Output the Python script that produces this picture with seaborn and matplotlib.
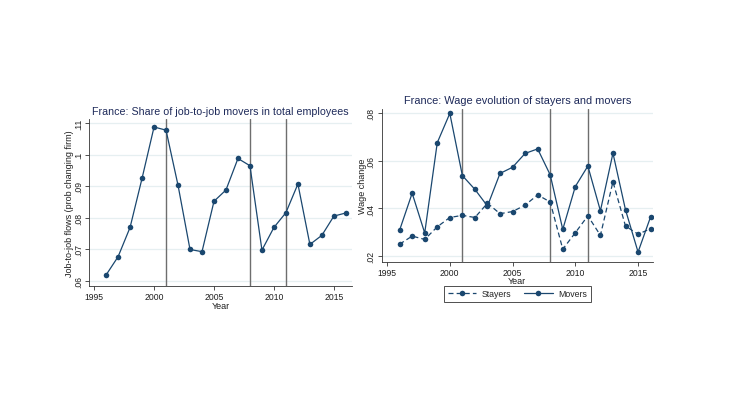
import matplotlib
matplotlib.use("Agg")
import matplotlib.pyplot as plt
import pandas as pd
import seaborn as sns
from matplotlib.lines import Line2D

years = list(range(1996, 2017))
j2j_share = [0.0618, 0.0676, 0.0769, 0.0925, 0.1088, 0.1078, 0.0903, 0.0699,
             0.0692, 0.0852, 0.0888, 0.0988, 0.0965, 0.0697, 0.0769, 0.0816,
             0.0907, 0.0715, 0.0744, 0.0805, 0.0815]
movers = [0.0309, 0.0464, 0.0297, 0.0676, 0.0799, 0.0538, 0.0480, 0.0410,
          0.0547, 0.0573, 0.0631, 0.0650, 0.0541, 0.0312, 0.0492, 0.0578,
          0.0390, 0.0632, 0.0394, 0.0217, 0.0365]
stayers = [0.0250, 0.0284, 0.0270, 0.0323, 0.0362, 0.0371, 0.0362, 0.0422,
           0.0378, 0.0387, 0.0414, 0.0457, 0.0427, 0.0229, 0.0298, 0.0369,
           0.0287, 0.0512, 0.0326, 0.0292, 0.0315]
crisis_years = [2001, 2008, 2011]
x_ticks = [1995, 2000, 2005, 2010, 2015]
left_yticks = [0.06, 0.07, 0.08, 0.09, 0.10, 0.11]
left_ylabels = [".06", ".07", ".08", ".09", ".1", ".11"]
right_yticks = [0.02, 0.04, 0.06, 0.08]
right_ylabels = [".02", ".04", ".06", ".08"]

sns.set_theme(style="white")
plt.rcParams["font.family"] = ["Liberation Sans", "DejaVu Sans"]

NAVY = "#1a476f"
GRID = "#e6eff1"
VLINE = "#6e6e6e"
TEXT = "#1e1e1e"

df_left = pd.DataFrame({"Year": years, "share": j2j_share})
df_right = pd.DataFrame({"Year": years * 2,
                         "value": stayers + movers,
                         "group": ["Stayers"] * len(years) + ["Movers"] * len(years)})

fig = plt.figure(figsize=(7.3, 4.1), dpi=100)
ax1 = fig.add_axes([0.122, 0.300, 0.360, 0.407])
ax2 = fig.add_axes([0.523, 0.359, 0.371, 0.373])


def style_axis(ax, yticks, ylabels, ylim, xlim, ylabel):
    for y in yticks:
        ax.axhline(y, color=GRID, lw=0.9, zorder=0)
    for x in crisis_years:
        ax.axvline(x, color=VLINE, lw=1.0, zorder=1)
    ax.set_xlim(*xlim)
    ax.set_ylim(*ylim)
    ax.set_xticks(x_ticks)
    ax.set_xticklabels([str(x) for x in x_ticks], fontsize=6.2, color=TEXT)
    ax.set_yticks(yticks)
    ax.set_yticklabels(ylabels, fontsize=6.2, color=TEXT, rotation=90,
                       va="center")
    ax.tick_params(axis="both", direction="out", length=3, width=0.6,
                   color="#333333", pad=1.5, left=True, bottom=True)
    for side in ["top", "right"]:
        ax.spines[side].set_visible(False)
    for side in ["left", "bottom"]:
        ax.spines[side].set_color("#333333")
        ax.spines[side].set_linewidth(0.6)
    ax.set_xlabel("Year", fontsize=6.5, color=TEXT, labelpad=-0.5)
    ax.set_ylabel(ylabel, fontsize=6.5, color=TEXT, labelpad=0)
    ax.grid(False)


# left panel: job-to-job share
sns.lineplot(data=df_left, x="Year", y="share", ax=ax1, color=NAVY,
             lw=0.9, marker="o", markersize=4, markeredgewidth=0, zorder=3)
style_axis(ax1, left_yticks, left_ylabels, (0.0583, 0.1113), (1994.58, 2016.5),
           "Job-to-job flows (prob changing firm)")
ax1.set_title("France: Share of job-to-job movers in total employees",
              fontsize=7.7, color="#1e2a5a", pad=4)

# right panel: wage growth of stayers and movers
sns.lineplot(data=df_right, x="Year", y="value", hue="group", style="group",
             ax=ax2, palette={"Stayers": NAVY, "Movers": NAVY},
             dashes={"Stayers": (4, 2.5), "Movers": ""},
             markers={"Stayers": "o", "Movers": "o"}, markersize=4,
             markeredgewidth=0, lw=0.9, legend=False, zorder=3)
style_axis(ax2, right_yticks, right_ylabels, (0.0176, 0.0818), (1994.58, 2016.16),
           "Wage change")
ax2.set_title("France: Wage evolution of stayers and movers",
              fontsize=7.9, color="#1e2a5a", pad=4)

handles = [
    Line2D([], [], color=NAVY, lw=0.9, ls=(0, (4, 2.5)), marker="o",
           markersize=4, markeredgewidth=0),
    Line2D([], [], color=NAVY, lw=0.9, marker="o", markersize=4,
           markeredgewidth=0),
]
leg = fig.legend(handles, ["Stayers", "Movers"], ncol=2, fontsize=6.3,
                 loc="center", bbox_to_anchor=(517.5 / 730, 1 - 295 / 410),
                 frameon=True, fancybox=False, handlelength=3.3,
                 columnspacing=1.4, handletextpad=0.65, borderpad=0.45)
leg.get_frame().set_edgecolor("#222222")
leg.get_frame().set_linewidth(0.7)

fig.savefig("out.png", dpi=100, facecolor="white")
